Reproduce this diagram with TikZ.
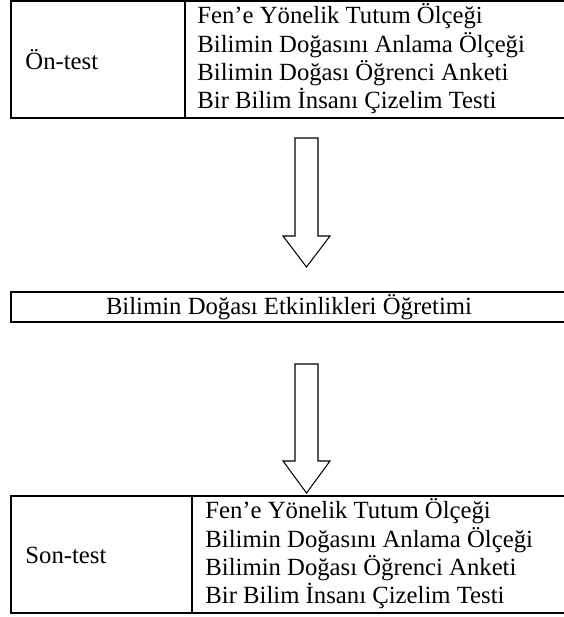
\documentclass[tikz,border=0pt]{standalone}
\usepackage{fontspec}
\setmainfont{Liberation Serif}
\usetikzlibrary{positioning}

\begin{document}
\begin{tikzpicture}[
    x=0.4854pt, y=-0.4854pt,
    frame/.style={draw=black, line width=0.75pt},
    divider/.style={draw=black, line width=0.5pt},
    cell/.style={font=\fontsize{12}{13.75}\selectfont, align=left, inner sep=0pt},
    blockarrow/.style={draw=black, line width=0.5pt, fill=white}
]
\useasboundingbox (0,0) rectangle (564,617);

% Pre-test table
\draw[frame] (11,1) rectangle (567,118);
\draw[divider] (185,1) -- (185,118);
\node[cell, anchor=west] (pre) at (25,60) {Ön-test};
\node[cell, anchor=west] (preList) at (197,59) {Fen’e Yönelik Tutum Ölçeği\\Bilimin Doğasını Anlama Ölçeği\\Bilimin Doğası Öğrenci Anketi\\Bir Bilim İnsanı Çizelim Testi};

% Teaching
\node[frame, cell, minimum width=269.8pt, minimum height=14.6pt] (teach) at (289,307) {Bilimin Doğası Etkinlikleri Öğretimi};

% Post-test table
\draw[frame] (11,496) rectangle (567,613);
\draw[divider] (192,496) -- (192,613);
\node[cell, anchor=west] (post) at (25,555) {Son-test};
\node[cell, anchor=west] (postList) at (205,554) {Fen’e Yönelik Tutum Ölçeği\\Bilimin Doğasını Anlama Ölçeği\\Bilimin Doğası Öğrenci Anketi\\Bir Bilim İnsanı Çizelim Testi};

% Arrows
\coordinate (arrowOne) at (306.5,138);
\coordinate (arrowTwo) at (306.5,364);
\draw[blockarrow] (arrowOne) ++(-11.5,0) -- ++(23,0) -- ++(0,98) -- ++(12,0) -- ++(-23.5,31) -- ++(-23.5,-31) -- ++(12,0) -- cycle;
\draw[blockarrow] (arrowTwo) ++(-11.5,0) -- ++(23,0) -- ++(0,97) -- ++(12,0) -- ++(-23.5,32) -- ++(-23.5,-32) -- ++(12,0) -- cycle;

\end{tikzpicture}
\end{document}
